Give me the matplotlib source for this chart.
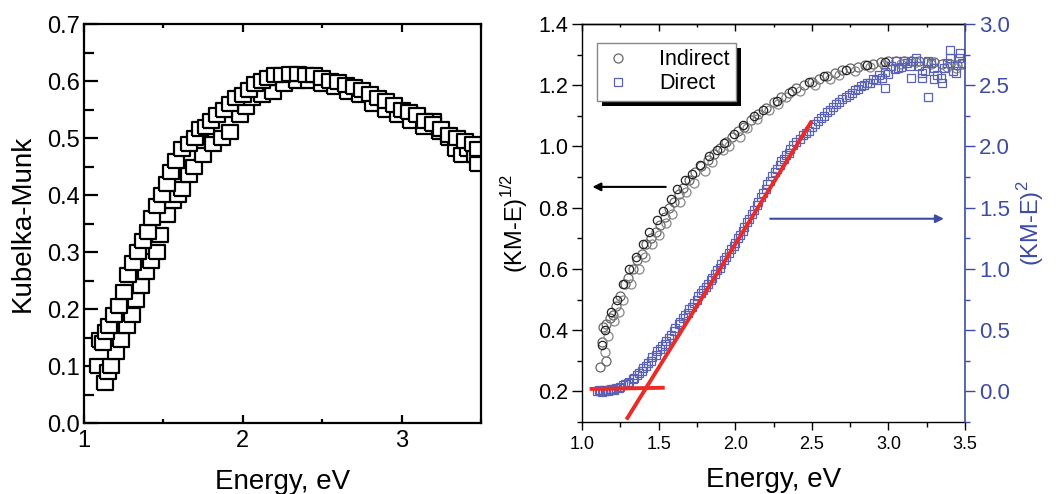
import matplotlib
matplotlib.use('Agg')
import matplotlib.pyplot as plt
import matplotlib.patheffects as pe
from matplotlib.ticker import MultipleLocator, FormatStrFormatter

plt.rcParams['font.family'] = ['Liberation Sans', 'DejaVu Sans']
plt.rcParams['mathtext.fontset'] = 'custom'
plt.rcParams['mathtext.rm'] = 'Liberation Sans'

# ---- left panel: Kubelka-Munk, two overlapping scans ----
km_e_upper = [1.10, 1.12, 1.14, 1.16, 1.19, 1.22, 1.25, 1.28, 1.31, 1.34, 1.37, 1.40, 1.43, 1.46,
              1.49, 1.52, 1.55, 1.58, 1.62, 1.66, 1.70, 1.73, 1.77, 1.80, 1.84, 1.88, 1.92, 1.96,
              2.00, 2.04, 2.08, 2.12, 2.16, 2.20, 2.25, 2.30, 2.35, 2.40, 2.45, 2.50, 2.55, 2.60,
              2.65, 2.70, 2.75, 2.80, 2.85, 2.90, 2.95, 3.00, 3.05, 3.10, 3.15, 3.20, 3.25, 3.30,
              3.35, 3.40, 3.45, 3.48]
km_upper = [0.145, 0.14, 0.16, 0.17, 0.19, 0.205, 0.23, 0.26, 0.28, 0.30, 0.32, 0.335, 0.36, 0.38,
            0.40, 0.42, 0.44, 0.46, 0.48, 0.49, 0.50, 0.515, 0.52, 0.53, 0.54, 0.55, 0.56, 0.57,
            0.575, 0.585, 0.595, 0.60, 0.605, 0.61, 0.61, 0.612, 0.612, 0.61, 0.61, 0.605, 0.60, 0.598,
            0.593, 0.59, 0.585, 0.578, 0.57, 0.565, 0.558, 0.55, 0.545, 0.54, 0.53, 0.525, 0.515, 0.505,
            0.50, 0.495, 0.49, 0.48]
km_e_lower = [1.09, 1.13, 1.15, 1.17, 1.20, 1.23, 1.27, 1.30, 1.33, 1.36, 1.39, 1.42, 1.46, 1.48,
              1.52, 1.56, 1.59, 1.62, 1.66, 1.69, 1.75, 1.81, 1.87, 1.92, 1.98, 2.02, 2.06, 2.12,
              2.19, 2.26, 2.34, 2.42, 2.50, 2.58, 2.66, 2.74, 2.82, 2.90, 2.98, 3.06, 3.14, 3.20,
              3.24, 3.30, 3.34, 3.38, 3.42, 3.46, 3.48]
km_lower = [0.10, 0.07, 0.09, 0.10, 0.125, 0.145, 0.17, 0.19, 0.215, 0.24, 0.265, 0.285, 0.30, 0.33,
            0.365, 0.39, 0.40, 0.41, 0.435, 0.45, 0.47, 0.49, 0.50, 0.51, 0.54, 0.555, 0.57, 0.575,
            0.58, 0.595, 0.60, 0.60, 0.595, 0.59, 0.58, 0.575, 0.56, 0.55, 0.54, 0.53, 0.52, 0.53,
            0.51, 0.50, 0.48, 0.47, 0.48, 0.47, 0.455]

# ---- right panel: indirect (left axis), three overlapping scans ----
ind_e = [1.12, 1.13, 1.14, 1.16, 1.16, 1.18, 1.20, 1.22, 1.25, 1.28, 1.30, 1.33, 1.36, 1.39, 1.42,
         1.45, 1.48, 1.51, 1.54, 1.57, 1.60, 1.63, 1.66, 1.70, 1.74, 1.78, 1.82, 1.86, 1.90, 1.94,
         1.98, 2.02, 2.06, 2.10, 2.15, 2.20, 2.25, 2.30, 2.35, 2.40, 2.45, 2.50, 2.55, 2.60, 2.65,
         2.70, 2.75, 2.80, 2.85, 2.90, 2.95, 3.00, 3.05, 3.10, 3.15, 3.20, 3.25, 3.30, 3.35, 3.40,
         3.45, 3.48]
ind_v = [0.28, 0.36, 0.41, 0.30, 0.42, 0.44, 0.45, 0.48, 0.51, 0.55, 0.57, 0.60, 0.63, 0.65, 0.68,
         0.70, 0.72, 0.745, 0.77, 0.80, 0.82, 0.845, 0.865, 0.89, 0.915, 0.935, 0.955, 0.975, 0.995, 1.015,
         1.03, 1.05, 1.065, 1.085, 1.105, 1.125, 1.145, 1.16, 1.175, 1.19, 1.20, 1.21, 1.22, 1.23, 1.24,
         1.25, 1.255, 1.26, 1.265, 1.27, 1.275, 1.28, 1.28, 1.28, 1.28, 1.28, 1.275, 1.275, 1.27, 1.27,
         1.265, 1.27]
ind2_e = [1.13, 1.15, 1.19, 1.23, 1.27, 1.31, 1.35, 1.40, 1.44, 1.49, 1.53, 1.58, 1.62, 1.67, 1.72,
          1.77, 1.83, 1.88, 1.93, 1.99, 2.05, 2.12, 2.18, 2.27, 2.37, 2.48, 2.58, 2.72, 2.86, 2.98]
ind2_v = [0.35, 0.40, 0.46, 0.50, 0.55, 0.60, 0.64, 0.68, 0.72, 0.76, 0.79, 0.83, 0.86, 0.89, 0.91,
          0.94, 0.97, 0.99, 1.01, 1.04, 1.07, 1.10, 1.12, 1.15, 1.18, 1.21, 1.23, 1.25, 1.265, 1.275]
ind3_e = [1.15, 1.17, 1.21, 1.24, 1.27, 1.32, 1.37, 1.41, 1.46, 1.50, 1.55, 1.59, 1.64, 1.68, 1.73,
          1.80, 1.85, 1.92, 1.96, 2.03, 2.08, 2.14, 2.22, 2.28, 2.33, 2.42, 2.52, 2.62, 2.68, 2.78,
          2.88, 2.97, 3.08, 3.18, 3.28, 3.38, 3.44]
ind3_v = [0.33, 0.38, 0.43, 0.46, 0.50, 0.55, 0.60, 0.64, 0.68, 0.71, 0.75, 0.78, 0.82, 0.85, 0.88,
          0.92, 0.95, 0.99, 1.00, 1.03, 1.06, 1.09, 1.12, 1.14, 1.16, 1.18, 1.20, 1.22, 1.235, 1.245,
          1.26, 1.265, 1.27, 1.275, 1.27, 1.26, 1.255]

# ---- right panel: direct (right axis), two scans ----
dir_e = [1.10, 1.12, 1.14, 1.16, 1.18, 1.20, 1.22, 1.25, 1.28, 1.31, 1.34, 1.37, 1.40, 1.43, 1.46,
         1.49, 1.52, 1.55, 1.58, 1.61, 1.64, 1.67, 1.70, 1.73, 1.76, 1.79, 1.82, 1.85, 1.88, 1.91,
         1.94, 1.97, 2.00, 2.03, 2.06, 2.09, 2.12, 2.15, 2.18, 2.21, 2.24, 2.27, 2.30, 2.33, 2.36,
         2.40, 2.44, 2.48, 2.52, 2.56, 2.60, 2.64, 2.68, 2.72, 2.76, 2.80, 2.84, 2.88, 2.92, 2.96,
         3.00, 3.04, 3.08, 3.12, 3.16, 3.20, 3.24, 3.28, 3.32, 3.36, 3.40, 3.44, 3.48,
         2.98, 3.26, 3.40, 3.47, 3.30, 3.15, 3.05, 3.22, 3.35]
dir_v = [0.0, 0.0, 0.01, 0.01, 0.015, 0.02, 0.03, 0.04, 0.06, 0.08, 0.11, 0.15, 0.19, 0.23, 0.28,
         0.33, 0.37, 0.41, 0.46, 0.52, 0.57, 0.62, 0.67, 0.72, 0.78, 0.83, 0.88, 0.93, 0.99, 1.04,
         1.10, 1.16, 1.21, 1.28, 1.34, 1.41, 1.48, 1.55, 1.62, 1.69, 1.76, 1.82, 1.88, 1.93, 1.98,
         2.04, 2.09, 2.13, 2.18, 2.23, 2.28, 2.32, 2.36, 2.40, 2.44, 2.47, 2.50, 2.52, 2.54, 2.56,
         2.59, 2.63, 2.65, 2.68, 2.70, 2.66, 2.62, 2.68, 2.58, 2.64, 2.72, 2.60, 2.68,
         2.48, 2.40, 2.79, 2.76, 2.55, 2.56, 2.70, 2.60, 2.52]
dir2_e = [1.11, 1.13, 1.15, 1.17, 1.19, 1.21, 1.24, 1.27, 1.30, 1.33, 1.36, 1.39, 1.42, 1.45, 1.48,
          1.51, 1.54, 1.57, 1.60, 1.63, 1.66, 1.69, 1.72, 1.75, 1.78, 1.81, 1.84, 1.87, 1.90, 1.93,
          1.96, 1.99, 2.02, 2.05, 2.08, 2.11, 2.14, 2.17, 2.20, 2.23, 2.26, 2.29, 2.32, 2.35, 2.38,
          2.42, 2.46, 2.50, 2.54, 2.58, 2.62, 2.66, 2.70, 2.74, 2.78, 2.82, 2.86, 2.90, 2.94, 2.98,
          3.02, 3.06, 3.10, 3.14, 3.18, 3.22, 3.26, 3.30, 3.34, 3.38, 3.42, 3.46]
dir2_v = [0.01, -0.005, 0.0, 0.005, 0.02, 0.015, 0.03, 0.05, 0.07, 0.10, 0.13, 0.17, 0.21, 0.25, 0.30,
          0.35, 0.39, 0.44, 0.49, 0.55, 0.60, 0.64, 0.69, 0.75, 0.80, 0.85, 0.91, 0.96, 1.01, 1.07,
          1.13, 1.19, 1.25, 1.31, 1.38, 1.45, 1.52, 1.59, 1.65, 1.72, 1.79, 1.85, 1.90, 1.95, 2.01,
          2.06, 2.11, 2.16, 2.21, 2.25, 2.30, 2.35, 2.39, 2.42, 2.46, 2.49, 2.52, 2.55, 2.58, 2.61,
          2.66, 2.64, 2.70, 2.66, 2.72, 2.56, 2.70, 2.64, 2.56, 2.68, 2.62, 2.72]

# red tangent lines (right axis units)
base_e = [1.05, 1.54]
base_v = [0.02, 0.03]
fit_e = [1.29, 2.50]
fit_v = [-0.23, 2.21]

blue = '#3d4ba2'
mblue = '#5a62b5'
red = '#ec2a26'

fig = plt.figure(figsize=(10.57, 4.94), dpi=100)

# ---------------- left panel ----------------
ax0 = fig.add_axes([0.0795, 0.1437, 0.3755, 0.8077])
rect = [(-1.25, -1), (1.25, -1), (1.25, 1), (-1.25, 1), (-1.25, -1)]
ax0.plot(km_e_lower, km_lower, ls='none', marker=rect, ms=12, mfc='white', mec='black', mew=1.6)
ax0.plot(km_e_upper, km_upper, ls='none', marker=rect, ms=12, mfc='white', mec='black', mew=1.6)
ax0.set_xlim(1, 3.5)
ax0.set_ylim(0, 0.7)
ax0.xaxis.set_major_locator(MultipleLocator(1))
ax0.xaxis.set_minor_locator(MultipleLocator(0.5))
ax0.yaxis.set_major_locator(MultipleLocator(0.1))
ax0.yaxis.set_minor_locator(MultipleLocator(0.05))
ax0.tick_params(axis='x', which='both', direction='in', top=True, width=1.6, labelsize=17, pad=5)
ax0.tick_params(axis='x', which='major', length=6)
ax0.tick_params(axis='x', which='minor', length=3)
ax0.tick_params(axis='y', which='both', direction='in', right=False, width=1.6, labelsize=17, pad=3)
ax0.tick_params(axis='y', which='major', length=10)
ax0.tick_params(axis='y', which='minor', length=7)
ax0.yaxis.set_major_formatter(FormatStrFormatter('%.1f'))
for s in ax0.spines.values():
    s.set_linewidth(1.6)
ax0.set_xlabel('Energy, eV', fontsize=20, labelpad=12)
ax0.set_ylabel('Kubelka-Munk', fontsize=20, labelpad=8)

# ---------------- right panel ----------------
ax1 = fig.add_axes([0.5506, 0.1457, 0.3624, 0.8057])
ax2 = ax1.twinx()

ax1.plot(ind_e, ind_v, ls='none', marker='o', ms=6.5, mfc='none', mec='#666666', mew=0.9,
         label='Indirect')
ax1.plot(ind3_e, ind3_v, ls='none', marker='o', ms=6.5, mfc='none', mec='#888888', mew=0.9)
ax1.plot(ind2_e, ind2_v, ls='none', marker='o', ms=6, mfc='none', mec='#222222', mew=0.9)
ax2.plot(dir_e, dir_v, ls='none', marker='s', ms=5.5, mfc='none', mec=mblue, mew=0.9,
         label='Direct')
ax2.plot(dir2_e, dir2_v, ls='none', marker='s', ms=5.5, mfc='none', mec=mblue, mew=0.9)
ax2.plot(base_e, base_v, color=red, lw=2.8, solid_capstyle='butt')
ax2.plot(fit_e, fit_v, color=red, lw=2.8, solid_capstyle='butt')

ax1.set_xlim(1.0, 3.5)
ax1.set_ylim(0.1, 1.4)
ax2.set_ylim(-0.25, 3.0)
ax1.xaxis.set_major_locator(MultipleLocator(0.5))
ax1.xaxis.set_minor_locator(MultipleLocator(0.25))
ax1.yaxis.set_major_locator(MultipleLocator(0.2))
ax1.yaxis.set_minor_locator(MultipleLocator(0.1))
ax2.yaxis.set_major_locator(MultipleLocator(0.5))
ax2.yaxis.set_minor_locator(MultipleLocator(0.25))
ax1.yaxis.set_major_formatter(FormatStrFormatter('%.1f'))
ax2.yaxis.set_major_formatter(FormatStrFormatter('%.1f'))

ax1.tick_params(axis='x', which='both', direction='out', width=1.0, labelsize=13, pad=4)
ax1.tick_params(axis='x', which='major', length=6)
ax1.tick_params(axis='x', which='minor', length=3.5)
ax1.tick_params(axis='y', which='both', direction='out', right=False, width=1.0, labelsize=15.5, pad=3)
ax1.tick_params(axis='y', which='major', length=7)
ax1.tick_params(axis='y', which='minor', length=3.5)
ax2.tick_params(axis='y', which='both', direction='out', width=1.0, colors=blue, labelsize=16, pad=3)
ax2.tick_params(axis='y', which='major', length=7)
ax2.tick_params(axis='y', which='minor', length=3.5)
# inward ticks along the top spine
top = ax1.secondary_xaxis('top')
top.xaxis.set_major_locator(MultipleLocator(0.5))
top.xaxis.set_minor_locator(MultipleLocator(0.25))
top.tick_params(which='both', direction='in', width=1.0, labeltop=False)
top.tick_params(which='major', length=5)
top.tick_params(which='minor', length=2.5)
top.spines['top'].set_linewidth(1.0)
for s in ['left', 'bottom', 'top']:
    ax1.spines[s].set_linewidth(1.0)
ax1.spines['right'].set_visible(False)
ax2.spines['right'].set_color(blue)
ax2.spines['right'].set_linewidth(1.2)
for s in ['left', 'bottom', 'top']:
    ax2.spines[s].set_visible(False)

ax1.set_xlabel('Energy, eV', fontsize=20, labelpad=10)
ax1.set_ylabel('(KM-E)$^{1/2}$', fontsize=17, labelpad=6)
ax2.set_ylabel('(KM-E)$^{2}$', fontsize=17, color=blue, labelpad=4)

ax1.annotate('', xy=(1.05, 0.868), xytext=(1.565, 0.868),
             arrowprops=dict(arrowstyle='-|>', color='black', lw=1.5, mutation_scale=12))
ax2.annotate('', xy=(3.38, 1.41), xytext=(2.21, 1.41),
             arrowprops=dict(arrowstyle='-|>', color=blue, lw=1.5, mutation_scale=12))

h1, l1 = ax1.get_legend_handles_labels()
h2, l2 = ax2.get_legend_handles_labels()
leg = ax2.legend(h1 + h2, l1 + l2, loc='upper left', bbox_to_anchor=(0.038, 0.953),
                 borderaxespad=0, fontsize=15.5, fancybox=False, framealpha=1,
                 edgecolor='#888888', handlelength=1.4, handletextpad=1.2,
                 borderpad=0.3, labelspacing=0.15)
leg.get_frame().set_linewidth(1.0)
leg.get_frame().set_path_effects([pe.SimplePatchShadow(offset=(4, -4), shadow_rgbFace='black', alpha=1),
                                  pe.Normal()])

plt.savefig('out.png', dpi=100)
